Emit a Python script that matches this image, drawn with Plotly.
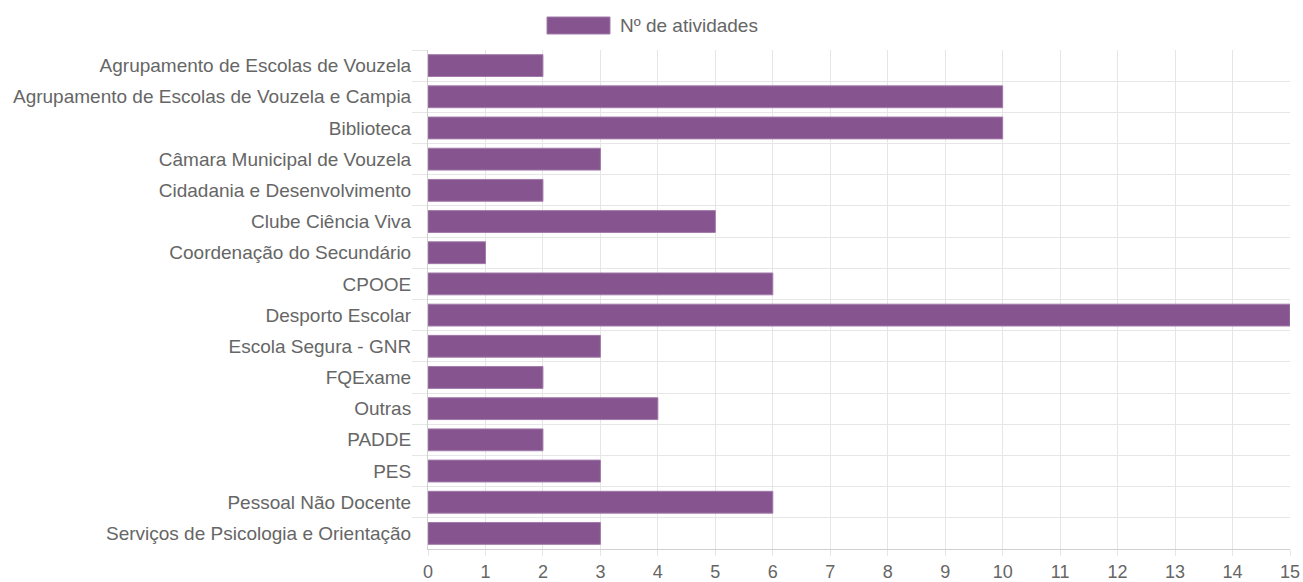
import plotly.graph_objects as go

categories = [
    'Agrupamento de Escolas de Vouzela',
    'Agrupamento de Escolas de Vouzela e Campia',
    'Biblioteca',
    'Câmara Municipal de Vouzela',
    'Cidadania e Desenvolvimento',
    'Clube Ciência Viva',
    'Coordenação do Secundário',
    'CPOOE',
    'Desporto Escolar',
    'Escola Segura - GNR',
    'FQExame',
    'Outras',
    'PADDE',
    'PES',
    'Pessoal Não Docente',
    'Serviços de Psicologia e Orientação',
]
atividades = [2, 10, 10, 3, 2, 5, 1, 6, 15, 3, 2, 4, 2, 3, 6, 3]
series_name = 'Nº de atividades'

bar_color = '#86548f'
grid = '#e6e6e6'
txt = '#666666'

fig = go.Figure()
fig.add_trace(go.Bar(
    x=atividades, y=categories, orientation='h', name=series_name,
    marker=dict(color=bar_color, line=dict(color='#a27aaa', width=1)),
    showlegend=False,
))

# chart.js style legend box
fig.add_shape(type='rect', xref='paper', yref='paper',
              x0=(547 - 428) / 862, x1=(610 - 428) / 862,
              y0=1 + (50 - 34) / 499, y1=1 + (50 - 17) / 499,
              fillcolor=bar_color, line=dict(color='#a27aaa', width=1))
fig.add_annotation(text=series_name, xref='paper', yref='paper',
                   x=(618 - 428) / 862, y=1 + (50 - 25.5) / 499,
                   xanchor='left', yanchor='middle', showarrow=False,
                   font=dict(size=19, color=txt))

fig.update_yaxes(
    autorange='reversed', tickson='boundaries', ticks='outside', ticklen=15,
    tickcolor=grid, showgrid=True, gridcolor=grid, showline=True, linecolor='#d0d0d0',
    tickfont=dict(size=19, color=txt), categoryorder='array', categoryarray=categories,
    automargin=False, ticklabelstandoff=12,
)
fig.update_xaxes(
    range=[0, 15], dtick=1, ticks='outside', ticklen=6, tickcolor=grid,
    showgrid=True, gridcolor=grid, showline=True, linecolor='#d0d0d0',
    tickfont=dict(size=18, color=txt), zeroline=False, automargin=False,
)
fig.update_layout(
    width=1303, height=582, bargap=0.3,
    margin=dict(l=428, r=13, t=50, b=33, autoexpand=False),
    plot_bgcolor='white', paper_bgcolor='white',
    font=dict(family='Liberation Sans, Arial, sans-serif', color=txt),
)
fig.write_html('out.html', config={'displayModeBar': False},
               post_script="document.body.style.margin='0';document.body.style.overflow='hidden';")
